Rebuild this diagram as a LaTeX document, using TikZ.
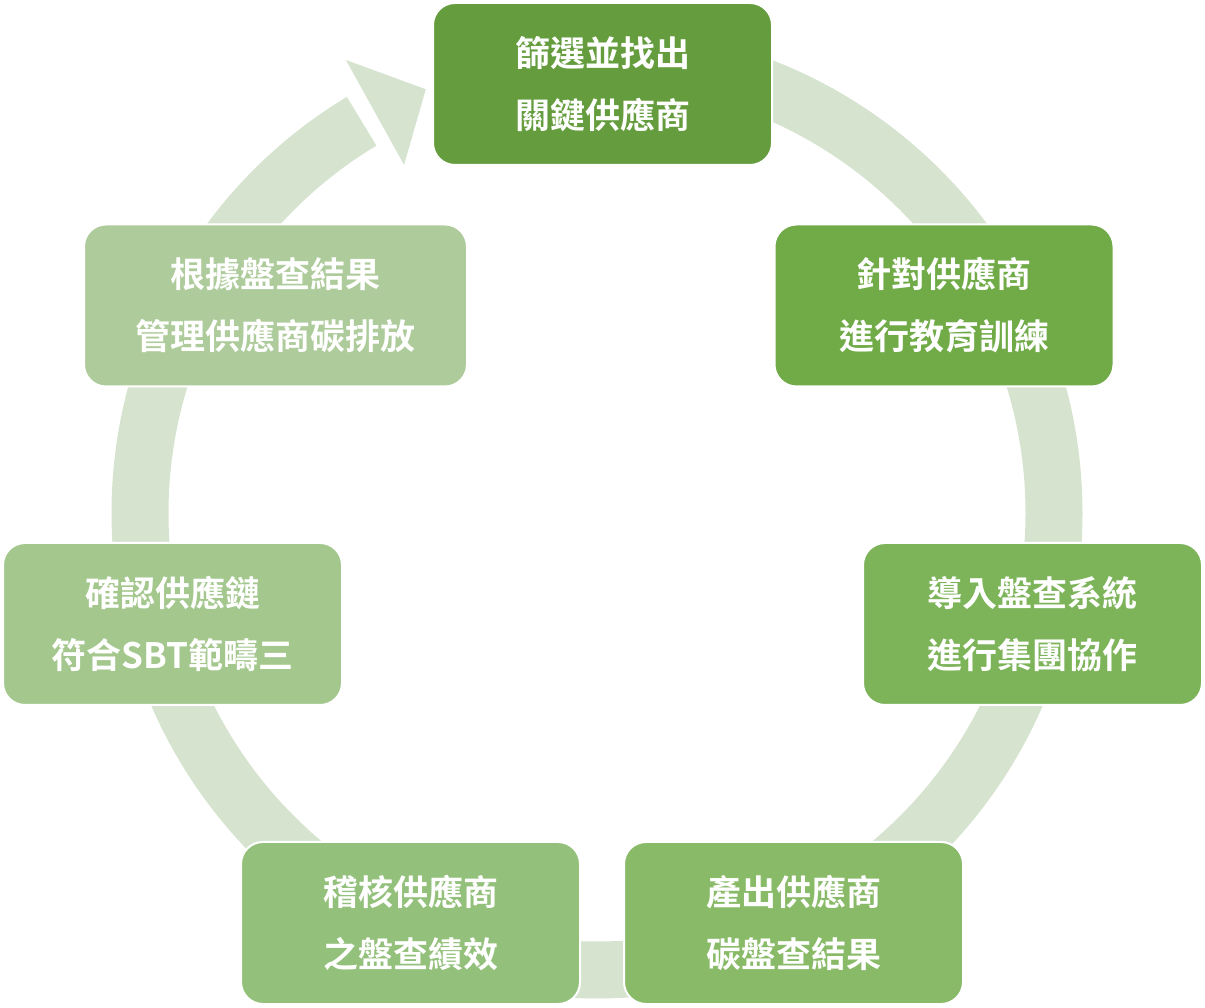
\documentclass[tikz,border=0pt]{standalone}
\usepackage{fontspec}
\newfontfamily\cjk{Noto Sans CJK TC}[BoldFont={* Bold}]
\begin{document}
\begin{tikzpicture}[x=1pt,y=1pt,
  box/.style={draw=white,line width=2pt,rounded corners=22pt,minimum width=339pt,minimum height=162pt,
    text=white,align=center,font=\cjk\bfseries\fontsize{35pt}{62pt}\selectfont,inner sep=0pt}]
\definecolor{ring}{HTML}{D6E4CF}
\definecolor{c1}{HTML}{659D3E}\definecolor{c2}{HTML}{70AB48}\definecolor{c3}{HTML}{7DB45A}
\definecolor{c4}{HTML}{88BA68}\definecolor{c5}{HTML}{93C07A}\definecolor{c6}{HTML}{A3C78D}
\definecolor{c7}{HTML}{AECB9B}
\useasboundingbox (0,0) rectangle (1205,1007);
\coordinate (o) at (597,494);
\draw[ring,line width=57pt] ([shift={(90:457)}]o) arc[start angle=90,end angle=-239,radius=457];
\fill[ring] ([shift={(119:398)}]o) -- ([shift={(119:518)}]o) -- ([shift={(112:457)}]o) -- cycle;
\node[box,fill=c1] (a) at (602.5,923) {篩選並找出\\關鍵供應商};
\node[box,fill=c2] (b) at (944,701.5) {針對供應商\\進行教育訓練};
\node[box,fill=c3] (c) at (1032.5,383) {導入盤查系統\\進行集團協作};
\node[box,fill=c4] (d) at (793.5,84) {產出供應商\\碳盤查結果};
\node[box,fill=c5] (e) at (410.5,84) {稽核供應商\\之盤查績效};
\node[box,fill=c6] (f) at (172.5,383) {確認供應鏈\\符合SBT範疇三};
\node[box,fill=c7,minimum width=383pt] (g) at (275.5,701.5) {根據盤查結果\\管理供應商碳排放};
\end{tikzpicture}
\end{document}
